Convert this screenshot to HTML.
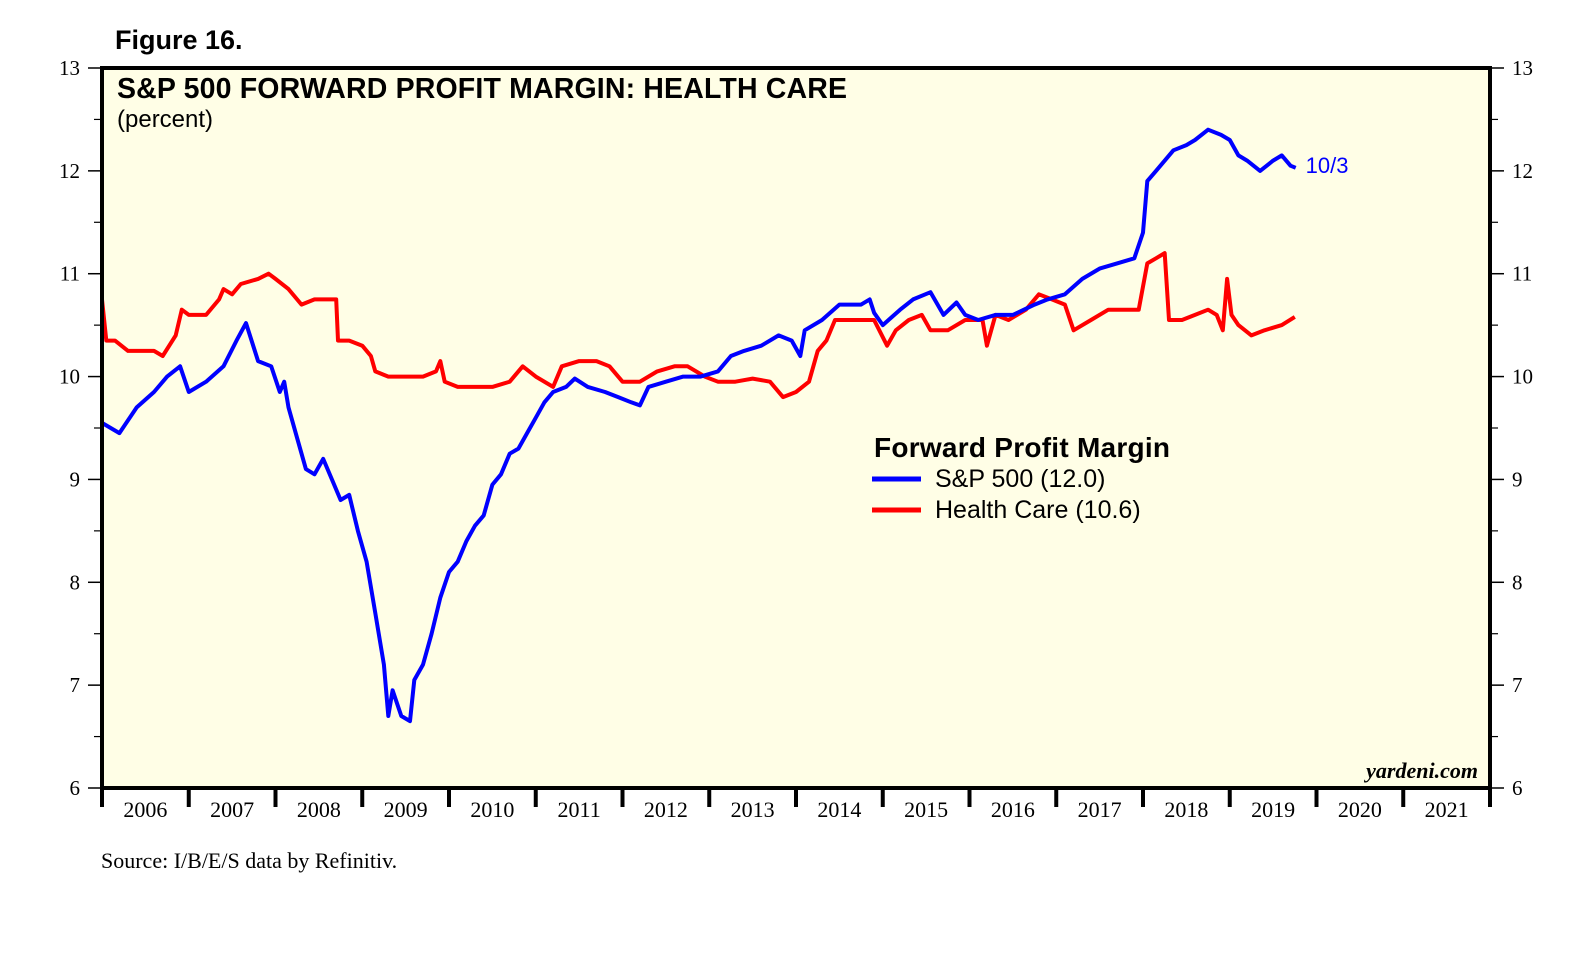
<!DOCTYPE html>
<html><head><meta charset="utf-8"><style>
body{margin:0;background:#fff;width:1571px;height:959px;overflow:hidden}
svg{display:block}
</style></head><body>
<svg id="chart" width="1571" height="959" xmlns="http://www.w3.org/2000/svg">
<text x="115" y="49" font-family="Liberation Sans, sans-serif" font-weight="bold" font-size="27">Figure 16.</text>
<rect x="102" y="68" width="1388" height="720" fill="#fffee6"/>
<g id="marks"></g>
<rect x="102" y="68" width="1388" height="720" fill="none" stroke="#000" stroke-width="4"/>
<text x="117" y="98" font-family="Liberation Sans, sans-serif" font-weight="bold" font-size="28.5" textLength="730">S&amp;P 500 FORWARD PROFIT MARGIN: HEALTH CARE</text>
<text x="117" y="127" font-family="Liberation Sans, sans-serif" font-size="24">(percent)</text>
<text x="1478" y="778" text-anchor="end" font-family="Liberation Serif, serif" font-style="italic" font-weight="bold" font-size="22">yardeni.com</text>
<text x="101" y="868" font-family="Liberation Serif, serif" font-size="22">Source: I/B/E/S data by Refinitiv.</text>
<g>
<text x="874" y="457" font-family="Liberation Sans, sans-serif" font-weight="bold" font-size="28" textLength="296">Forward Profit Margin</text>
<line x1="872" y1="479" x2="921" y2="479" stroke="#0000ff" stroke-width="5"/>
<text x="935" y="487" font-family="Liberation Sans, sans-serif" font-size="25">S&amp;P 500 (12.0)</text>
<line x1="872" y1="510" x2="921" y2="510" stroke="#ff0000" stroke-width="5"/>
<text x="935" y="518" font-family="Liberation Sans, sans-serif" font-size="25">Health Care (10.6)</text>
</g>
</svg>
<script>
const yTicks=[6,7,8,9,10,11,12,13];
const years=[2006,2007,2008,2009,2010,2011,2012,2013,2014,2015,2016,2017,2018,2019,2020,2021];
const spDates=[2006.0,2006.2,2006.4,2006.6,2006.75,2006.9,2007.0,2007.2,2007.4,2007.55,2007.66,2007.8,2007.95,2008.05,2008.1,2008.15,2008.25,2008.35,2008.45,2008.55,2008.65,2008.75,2008.85,2008.95,2009.05,2009.15,2009.25,2009.3,2009.35,2009.45,2009.55,2009.6,2009.7,2009.8,2009.9,2010.0,2010.1,2010.2,2010.3,2010.4,2010.5,2010.6,2010.7,2010.8,2010.9,2011.0,2011.1,2011.2,2011.35,2011.45,2011.6,2011.8,2011.95,2012.1,2012.2,2012.3,2012.5,2012.7,2012.9,2013.1,2013.25,2013.4,2013.6,2013.8,2013.95,2014.05,2014.1,2014.3,2014.5,2014.65,2014.75,2014.85,2014.9,2015.0,2015.2,2015.35,2015.55,2015.7,2015.85,2015.95,2016.1,2016.3,2016.5,2016.75,2016.9,2017.1,2017.3,2017.5,2017.7,2017.9,2018.0,2018.05,2018.15,2018.35,2018.5,2018.6,2018.75,2018.9,2019.0,2019.1,2019.2,2019.35,2019.5,2019.6,2019.7,2019.76];
const spValues=[9.55,9.45,9.7,9.85,10.0,10.1,9.85,9.95,10.1,10.35,10.52,10.15,10.1,9.85,9.95,9.7,9.4,9.1,9.05,9.2,9.0,8.8,8.85,8.5,8.2,7.7,7.2,6.7,6.95,6.7,6.65,7.05,7.2,7.5,7.85,8.1,8.2,8.4,8.55,8.65,8.95,9.05,9.25,9.3,9.45,9.6,9.75,9.85,9.9,9.98,9.9,9.85,9.8,9.75,9.72,9.9,9.95,10.0,10.0,10.05,10.2,10.25,10.3,10.4,10.35,10.2,10.45,10.55,10.7,10.7,10.7,10.75,10.62,10.5,10.65,10.75,10.82,10.6,10.72,10.6,10.55,10.6,10.6,10.7,10.75,10.8,10.95,11.05,11.1,11.15,11.4,11.9,12.0,12.2,12.25,12.3,12.4,12.35,12.3,12.15,12.1,12.0,12.1,12.15,12.05,12.03];
const hcDates=[2006.0,2006.05,2006.15,2006.3,2006.45,2006.6,2006.7,2006.85,2006.92,2007.0,2007.2,2007.35,2007.4,2007.5,2007.6,2007.8,2007.92,2008.0,2008.15,2008.3,2008.45,2008.6,2008.7,2008.72,2008.85,2009.0,2009.1,2009.15,2009.3,2009.5,2009.7,2009.85,2009.9,2009.95,2010.1,2010.3,2010.5,2010.7,2010.85,2011.0,2011.2,2011.3,2011.5,2011.7,2011.85,2012.0,2012.2,2012.4,2012.6,2012.75,2012.95,2013.1,2013.3,2013.5,2013.7,2013.85,2014.0,2014.15,2014.25,2014.35,2014.45,2014.6,2014.9,2015.05,2015.15,2015.3,2015.45,2015.55,2015.75,2015.95,2016.15,2016.2,2016.3,2016.45,2016.65,2016.8,2016.95,2017.1,2017.2,2017.4,2017.6,2017.8,2017.95,2018.05,2018.15,2018.25,2018.3,2018.45,2018.6,2018.75,2018.85,2018.92,2018.97,2019.02,2019.1,2019.25,2019.4,2019.6,2019.75];
const hcValues=[10.75,10.35,10.35,10.25,10.25,10.25,10.2,10.4,10.65,10.6,10.6,10.75,10.85,10.8,10.9,10.95,11.0,10.95,10.85,10.7,10.75,10.75,10.75,10.35,10.35,10.3,10.2,10.05,10.0,10.0,10.0,10.05,10.15,9.95,9.9,9.9,9.9,9.95,10.1,10.0,9.9,10.1,10.15,10.15,10.1,9.95,9.95,10.05,10.1,10.1,10.0,9.95,9.95,9.98,9.95,9.8,9.85,9.95,10.25,10.35,10.55,10.55,10.55,10.3,10.45,10.55,10.6,10.45,10.45,10.55,10.55,10.3,10.6,10.55,10.65,10.8,10.75,10.7,10.45,10.55,10.65,10.65,10.65,11.1,11.15,11.2,10.55,10.55,10.6,10.65,10.6,10.45,10.95,10.6,10.5,10.4,10.45,10.5,10.58];
const lastLabel="10/3";
const X0=102,X1=1490,Y0=788,Y1=68;
const xs=t=>X0+(t-2006)/16*(X1-X0);
const ys=v=>Y0-(v-6)/7*(Y0-Y1);
const NS="http://www.w3.org/2000/svg";
const svg=document.getElementById('chart');
const marks=document.getElementById('marks');
function mk(tag,attrs,parent){const e=document.createElementNS(NS,tag);for(const k in attrs)e.setAttribute(k,attrs[k]);(parent||svg).appendChild(e);return e;}
yTicks.forEach(v=>{
  const y=ys(v);
  const l=mk('line',{x1:X0-14,x2:X0,y1:y,y2:y,stroke:'#000','stroke-width':1.5});
  
  
  const r=mk('line',{x1:X1,x2:X1+14,y1:y,y2:y,stroke:'#000','stroke-width':1.5});
  
  
  if(v<13){
    const m1=mk('line',{x1:X0-8,x2:X0,y1:ys(v+0.5),y2:ys(v+0.5),stroke:'#000','stroke-width':1.2});
    
    
    const m2=mk('line',{x1:X1,x2:X1+8,y1:ys(v+0.5),y2:ys(v+0.5),stroke:'#000','stroke-width':1.2});
    
    
  }
  const tl=mk('text',{x:X0-22,y:y+7,'text-anchor':'end','font-family':'Liberation Serif, serif','font-size':21});
  tl.textContent=v;
  
  
  const tr=mk('text',{x:X1+22,y:y+7,'font-family':'Liberation Serif, serif','font-size':21});
  tr.textContent=v;
  
  
});
years.concat([2022]).forEach(yr=>{
  const x=xs(yr);
  const t=mk('line',{x1:x,x2:x,y1:Y0,y2:Y0+19,stroke:'#000','stroke-width':4});
  
  
});
years.forEach(yr=>{
  const t=mk('text',{x:xs(yr+0.5),y:Y0+29,'text-anchor':'middle','font-family':'Liberation Serif, serif','font-size':22});
  t.textContent=yr;
  
  
});
function line(d,v,c,name){
  const p=mk('path',{d:d.map((t,i)=>(i?'L':'M')+xs(t).toFixed(1)+','+ys(v[i]).toFixed(1)).join(''),fill:'none',stroke:c,'stroke-width':4,'stroke-linejoin':'round'},marks);
  
  
}
line(hcDates,hcValues,'#ff0000','health-care-line');
line(spDates,spValues,'#0000ff','sp500-line');
const lt=mk('text',{x:xs(spDates[spDates.length-1])+10,y:ys(spValues[spValues.length-1])+5,fill:'#0000ff','font-family':'Liberation Sans, sans-serif','font-size':22});
lt.textContent=lastLabel;


</script>
</body></html>
